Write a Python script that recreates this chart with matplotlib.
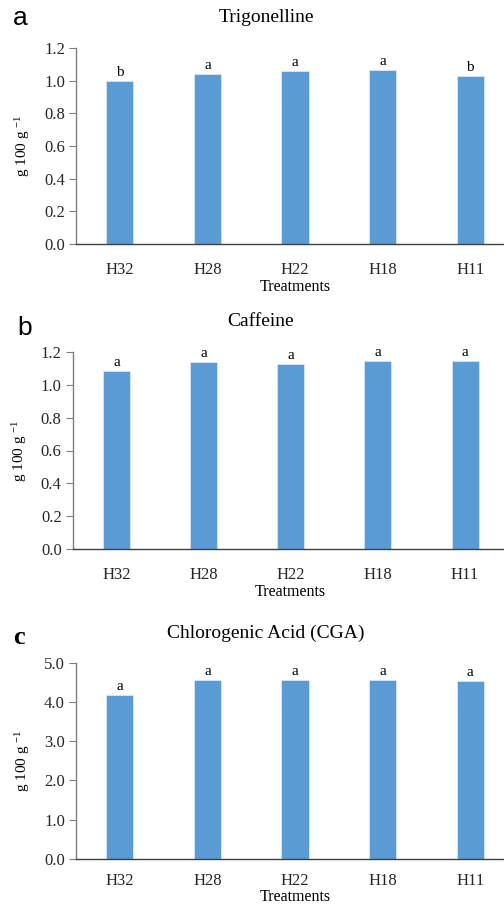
import matplotlib
matplotlib.use('Agg')
import matplotlib.pyplot as plt

plt.rcParams['font.family'] = ['Liberation Serif', 'DejaVu Serif']
plt.rcParams['mathtext.fontset'] = 'stix'

treatments = ['H32', 'H28', 'H22', 'H18', 'H11']

trigonelline = [0.998, 1.043, 1.057, 1.063, 1.029]
trig_letters = ['b', 'a', 'a', 'a', 'b']

caffeine = [1.082, 1.137, 1.129, 1.143, 1.143]
caf_letters = ['a', 'a', 'a', 'a', 'a']

cga = [4.167, 4.558, 4.558, 4.558, 4.530]
cga_letters = ['a', 'a', 'a', 'a', 'a']

W, H = 504, 906
fig = plt.figure(figsize=(W / 100, H / 100), dpi=100)

bar_col = '#5B9BD5'
axis_col = '#404040'

# left px, top px, bottom px, right px
panels = [
    (76, 48, 244, 514, trigonelline, trig_letters, 'Trigonelline', 1.2, 0.2, '{:.1f}'),
    (72.8, 352, 549, 508.6, caffeine, caf_letters, 'Caffeine', 1.2, 0.2, '{:.1f}'),
    (76, 662.7, 858.7, 514, cga, cga_letters, 'Chlorogenic Acid (CGA)', 5.0, 1.0, '{:.1f}'),
]
panel_tags = [('a', 20, 18, 'Liberation Sans', 'normal'),
              ('b', 25, 328, 'Liberation Sans', 'normal'),
              ('c', 19, 637, 'Liberation Serif', 'bold')]
title_x = [266, 261, 266]
title_y = [18, 322, 633]
tick_pad = [13, 13, 10.5]
xlab_pad = [1, 1, -0.5]

for i, (l, t, b, r, vals, letters, title, ymax, step, fmt) in enumerate(panels):
    ax = fig.add_axes([l / W, 1 - b / H, (r - l) / W, (b - t) / H])
    x = range(len(treatments))
    bars = ax.bar(x, vals, width=0.31, color=bar_col, edgecolor='#d6e6f5', linewidth=0.6)
    for bar, let in zip(bars, letters):
        ax.annotate(let, (bar.get_x() + bar.get_width() / 2, bar.get_height()),
                    xytext=(0, 1.5), textcoords='offset points',
                    ha='center', va='bottom', fontsize=11)
    ax.set_xlim(-0.5, 4.5)
    ax.set_ylim(0, ymax)
    ticks = [k * step for k in range(int(round(ymax / step)) + 1)]
    ax.set_yticks(ticks)
    ax.set_yticklabels([fmt.format(v) for v in ticks])
    ax.set_xticks(list(x))
    ax.set_xticklabels(treatments)
    for s in ['top', 'right']:
        ax.spines[s].set_visible(False)
    for s in ['left', 'bottom']:
        ax.spines[s].set_color(axis_col)
        ax.spines[s].set_linewidth(1.0)
    ax.spines['left'].set_color('#7f7f7f')
    ax.tick_params(axis='y', direction='out', length=5, width=0.8, color='#7f7f7f',
                   labelsize=12, pad=3, labelcolor='#262626')
    ax.tick_params(axis='x', length=0, labelsize=12, pad=tick_pad[i], labelcolor='#262626')
    ax.set_xlabel('Treatments', fontsize=11.5, labelpad=xlab_pad[i])
    ax.set_ylabel('g 100 g $^{\\mathregular{-1}}$', fontsize=11)
    ax.yaxis.set_label_coords(-44 / (r - l), 0.5)
    ax.text((title_x[i] - l) / (r - l), 1 + (t - title_y[i]) / (b - t), title,
            transform=ax.transAxes, ha='center', va='center', fontsize=14)
    tag, tx, ty, tf, tw = panel_tags[i]
    fig.text(tx / W, 1 - ty / H, tag, ha='center', va='center', fontsize=19,
             family=tf, fontweight=tw)

fig.savefig('out.png', dpi=100)
